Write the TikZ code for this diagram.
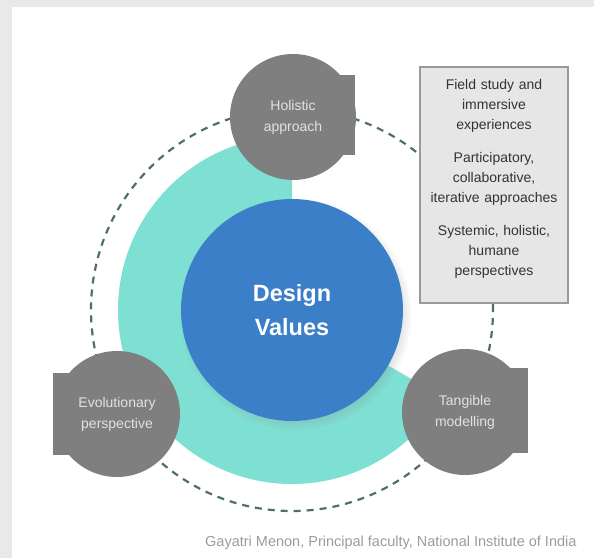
\documentclass[tikz,border=0pt]{standalone}
\usepackage{fontspec}
\setmainfont{Liberation Sans}
\usetikzlibrary{shadows}

\definecolor{panelgray}{HTML}{E8E9EA}
\definecolor{ringteal}{HTML}{7EE0D3}
\definecolor{coreblue}{HTML}{3B7FC9}
\definecolor{satgray}{HTML}{7F7F7F}
\definecolor{sattext}{HTML}{E2E2E2}
\definecolor{orbitcol}{HTML}{4F6E6C}
\definecolor{notefill}{HTML}{E6E6E6}
\definecolor{noteline}{HTML}{9A9A9A}
\definecolor{notetext}{HTML}{333333}
\definecolor{captext}{HTML}{9C9C9C}

\begin{document}
\begin{tikzpicture}[x=1pt, y=1pt]
	\tikzstyle{satellite} = [circle, fill=satgray, minimum size=126pt, inner sep=0pt, text=sattext, align=center, font=\fontsize{14}{21}\selectfont]
	\tikzstyle{tab} = [fill=satgray]
	\tikzstyle{orbit} = [draw=orbitcol, line width=2.2pt, dash pattern=on 7pt off 6pt]
	\tikzstyle{notebox} = [rectangle, draw=noteline, line width=1.2pt, fill=notefill, minimum width=148pt, minimum height=236pt]
	\tikzstyle{notelines} = [text width=144pt, align=center, text=notetext, font=\fontsize{14}{20}\selectfont, inner sep=0pt]
	\useasboundingbox (0,0) rectangle (594,558);
	% page and panel
	\fill[panelgray] (0,0) rectangle (594,558);
	\fill[white] (12,0) rectangle (594,551);
	% orbit and ring
	\coordinate (centre) at (292,248);
	\draw[orbit] (centre) circle[radius=201];
	\fill[ringteal] (centre) -- ++(90:174) arc[start angle=90, end angle=330, radius=174] -- cycle;
	\node[circle, fill=coreblue, minimum size=222pt, inner sep=0pt, circular drop shadow={shadow scale=1.05, shadow xshift=3pt, shadow yshift=-4pt, opacity=.35}, text=white, align=center, font=\fontsize{23.5}{34}\selectfont\bfseries](core) at (centre){Design\\Values};
	% satellites with their tabs
	\fill[tab] (293,403) rectangle (355,483);
	\node[satellite](holistic) at (293,441){Holistic\\approach};
	\fill[tab] (53,103) rectangle (117,185);
	\node[satellite](evolution) at (117,144){Evolutionary\\perspective};
	\fill[tab] (465,105) rectangle (528,190);
	\node[satellite](tangible) at (465,146){Tangible\\modelling};
	% notes
	\node[notebox](notes) at (494,373){};
	\node[notelines, anchor=north](notestext) at ([yshift=-13pt]notes.north){Field study and\\immersive\\experiences\\[13pt]Participatory,\\collaborative,\\iterative approaches\\[13pt]Systemic, holistic,\\humane\\perspectives};
	\node[anchor=east, text=captext, font=\fontsize{14.5}{17}\selectfont](credit) at (580,15){Gayatri Menon, Principal faculty, National Institute of India};
\end{tikzpicture}
\end{document}
